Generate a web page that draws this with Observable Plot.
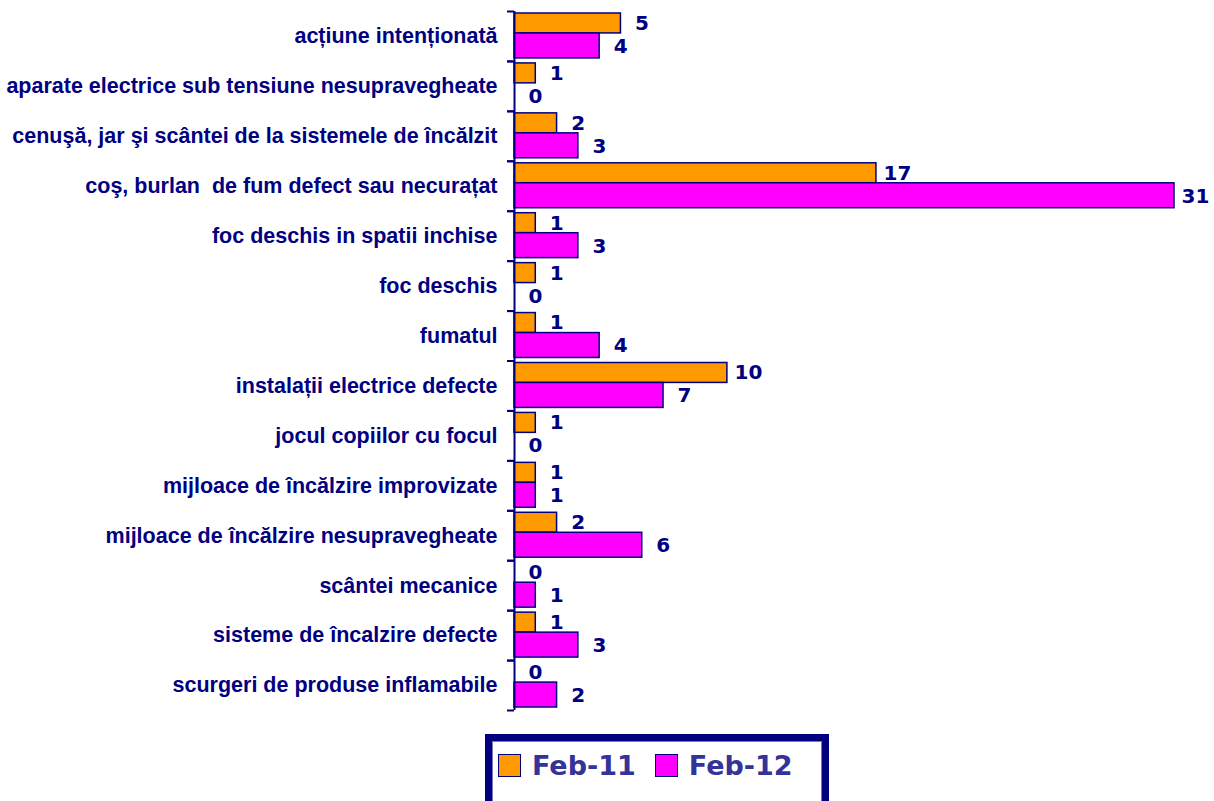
<!DOCTYPE html>
<html>
<head>
<meta charset="utf-8">
<script src="https://cdn.jsdelivr.net/npm/d3@7"></script>
<script src="https://cdn.jsdelivr.net/npm/@observablehq/plot@0.6"></script>
<style>
  html, body { margin: 0; padding: 0; background: #fff; }
  #wrap { position: relative; width: 1214px; height: 801px; }
  #legend {
    position: absolute; left: 485px; top: 734px; width: 330px; height: 66px;
    border: 7px solid #000080; border-bottom: none; box-sizing: content-box;
    display: flex; align-items: flex-start; padding-top: 0;
    font-family: "DejaVu Sans", Verdana, sans-serif;
    font-weight: bold; font-size: 27px; color: #333399;
  }
  #legend .inner { position: absolute; inset: 0; border: 1px solid #7777bb; border-bottom: none; }
  #legend .item { display: flex; align-items: center; margin-top: 9px; }
  #legend .sw { width: 21px; height: 21px; border: 1.5px solid #000080; margin-right: 11px; }
</style>
</head>
<body>
<div id="wrap">
  <div id="chart"></div>
  <div id="legend"><div class="inner"></div></div>
</div>
<script>
const categories = [
  "acțiune intenționată",
  "aparate electrice sub tensiune nesupravegheate",
  "cenuşă, jar şi scântei de la sistemele de încălzit",
  "coş, burlan  de fum defect sau necurațat",
  "foc deschis in spatii inchise",
  "foc deschis",
  "fumatul",
  "instalații electrice defecte",
  "jocul copiilor cu focul",
  "mijloace de încălzire improvizate",
  "mijloace de încălzire nesupravegheate",
  "scântei mecanice",
  "sisteme de încalzire defecte",
  "scurgeri de produse inflamabile"
];
const feb11 = [5, 1, 2, 17, 1, 1, 1, 10, 1, 1, 2, 0, 1, 0];
const feb12 = [4, 0, 3, 31, 3, 0, 4, 7, 0, 1, 6, 1, 3, 2];
const seriesNames = ["Feb-11", "Feb-12"];
const seriesColors = ["#FF9900", "#FF00FF"];

const navy = "#000080";
const rows11 = categories.map((c, i) => ({category: c, series: seriesNames[0], value: feb11[i]}));
const rows12 = categories.map((c, i) => ({category: c, series: seriesNames[1], value: feb12[i]}));

const marginTop = 11, marginBottom = 15, height = 725;
const step = (height - marginTop - marginBottom) / categories.length;

const valueFont = {fontFamily: "DejaVu Sans, Verdana, sans-serif", fontSize: 20, fontWeight: "bold", fill: navy};

const chart = Plot.plot({
  width: 1214,
  height,
  marginLeft: 514,
  marginRight: 40,
  marginTop,
  marginBottom,
  style: {fontFamily: "Liberation Sans, Arial, sans-serif", fontSize: "21.5px", fontWeight: "bold", color: navy, background: "white"},
  x: {domain: [0, 31], axis: null},
  y: {domain: categories, padding: 0, round: false, axis: null},
  marks: [
    Plot.barX(rows11, {x: "value", y: "category", fill: seriesColors[0], stroke: navy, strokeWidth: 1.5, insetTop: 2, insetBottom: 28}),
    Plot.barX(rows12, {x: "value", y: "category", fill: seriesColors[1], stroke: navy, strokeWidth: 1.5, insetTop: 22, insetBottom: 3}),
    Plot.axisY({tickSize: 0, tickPadding: 17, fill: navy, fontSize: 21.5, fontWeight: "bold", label: null}),
    Plot.axisY({tickSize: 7, text: null, stroke: navy, strokeWidth: 2, dy: -step / 2, label: null}),
    Plot.axisY({tickSize: 7, text: null, stroke: navy, strokeWidth: 2, dy: step / 2, label: null}),
    Plot.ruleX([0], {stroke: navy, strokeWidth: 2}),
    Plot.text(rows11, {x: "value", y: "category", text: d => String(d.value), dx: 21, dy: -13, ...valueFont}),
    Plot.text(rows12, {x: "value", y: "category", text: d => String(d.value), dx: 21, dy: 10, ...valueFont})
  ]
});
document.getElementById("chart").appendChild(chart);

const legend = document.getElementById("legend");
seriesNames.forEach((name, i) => {
  const item = document.createElement("div");
  item.className = "item";
  item.style.marginLeft = i === 0 ? "6px" : "19px";
  const sw = document.createElement("div");
  sw.className = "sw";
  sw.style.background = seriesColors[i];
  const label = document.createElement("span");
  label.textContent = name;
  item.appendChild(sw);
  item.appendChild(label);
  legend.appendChild(item);
});
</script>
</body>
</html>
